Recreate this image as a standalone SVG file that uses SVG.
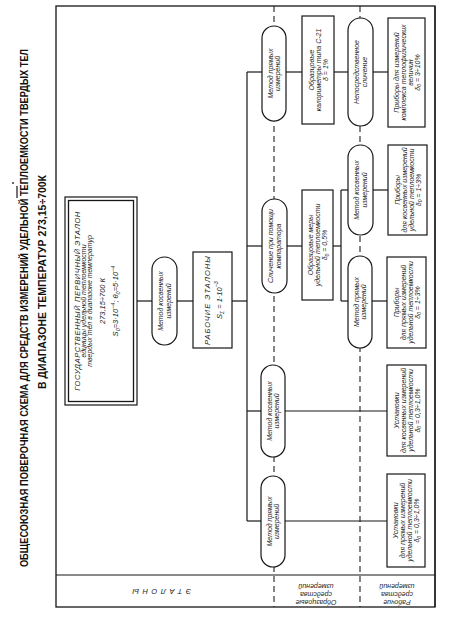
<svg xmlns="http://www.w3.org/2000/svg" width="461" height="626" viewBox="0 0 461 626">
<style>
.bg{fill:#fff}
.fr{fill:none;stroke:#161616;stroke-width:1.3}
.ln{fill:none;stroke:#161616;stroke-width:1.2}
.ds{fill:none;stroke:#222;stroke-width:1.1;stroke-dasharray:6 4}
.bx{fill:#fff;stroke:#161616;stroke-width:1.2}
.t{font-family:"Liberation Sans",Arial,sans-serif;font-style:italic;font-size:7px;fill:#1e1e1e;text-anchor:middle}
.cap{font-family:"Liberation Sans",Arial,sans-serif;font-style:italic;font-size:7.5px;fill:#1e1e1e;text-anchor:middle}
.ttl{font-family:"Liberation Sans",Arial,sans-serif;font-weight:bold;fill:#111;text-anchor:middle}
</style>
<rect class="bg" x="0" y="0" width="461" height="626"/>

<!-- title -->
<g id="title">
<text class="ttl" font-size="11" transform="translate(24,308) rotate(-90) scale(0.82,1)" x="0" y="4" textLength="632" lengthAdjust="spacingAndGlyphs">ОБЩЕСОЮЗНАЯ ПОВЕРОЧНАЯ СХЕМА ДЛЯ СРЕДСТВ ИЗМЕРЕНИЙ УДЕЛЬНОЙ ТЕПЛОЕМКОСТИ ТВЕРДЫХ ТЕЛ</text>
<text class="ttl" font-size="10.5" transform="translate(42,282) rotate(-90) scale(0.87,1)" x="0" y="4" textLength="246" lengthAdjust="spacingAndGlyphs">В ДИАПАЗОНЕ ТЕМПЕРАТУР 273,15÷700К</text>
<line class="ln" x1="17" y1="186" x2="17" y2="198" stroke-width="1.6"/>
<circle cx="13" cy="183" r="0.9" fill="#222"/>
</g>

<!-- frame and zones -->
<g id="frame">
<rect class="fr" x="56" y="6" width="379" height="601"/>
<line class="ln" x1="435" y1="6" x2="435" y2="607" stroke-width="2.2"/>
<line class="ln" x1="56" y1="575" x2="435" y2="575"/>
<line class="ds" x1="274" y1="6" x2="274" y2="607"/>
<line class="ds" x1="360" y1="6" x2="360" y2="607"/>
</g>

<!-- connectors -->
<g id="connectors">
<line class="ln" x1="137" y1="301" x2="152" y2="301"/>
<line class="ln" x1="177" y1="301" x2="193" y2="301"/>
<line class="ln" x1="232" y1="301" x2="247" y2="301"/>
<line class="ln" x1="247" y1="72" x2="247" y2="521"/>
<line class="ln" x1="247" y1="72" x2="262" y2="72"/>
<line class="ln" x1="247" y1="246" x2="262" y2="246"/>
<line class="ln" x1="247" y1="411" x2="261" y2="411"/>
<line class="ln" x1="247" y1="521" x2="261" y2="521"/>
<line class="ln" x1="286" y1="72" x2="302" y2="72"/>
<line class="ln" x1="334" y1="72" x2="348" y2="72"/>
<line class="ln" x1="373" y1="72" x2="388" y2="72"/>
<line class="ln" x1="287" y1="246" x2="302" y2="246"/>
<line class="ln" x1="333" y1="246" x2="341" y2="246"/>
<line class="ln" x1="341" y1="190" x2="341" y2="301"/>
<line class="ln" x1="341" y1="190" x2="348" y2="190"/>
<line class="ln" x1="341" y1="301" x2="348" y2="301"/>
<line class="ln" x1="373" y1="190" x2="388" y2="190"/>
<line class="ln" x1="372" y1="301" x2="387" y2="301"/>
<line class="ln" x1="285" y1="411" x2="387" y2="411"/>
<line class="ln" x1="285" y1="521" x2="387" y2="521"/>
</g>

<!-- primary standard -->
<g id="primary-standard">
<rect class="bx" x="65" y="197" width="72" height="208"/>
<rect class="fr" x="68.5" y="200.5" width="65" height="201" stroke-width="0.9"/>
<g transform="translate(101,301) rotate(-90)">
<text class="cap" x="0" y="-21.5" letter-spacing="0.6">ГОСУДАРСТВЕННЫЙ ПЕРВИЧНЫЙ ЭТАЛОН</text>
<text class="t" x="0" y="-15.5" font-size="6.5">единицы удельной теплоемкости</text>
<text class="t" x="0" y="-9.5" font-size="6.5">твердых тел в диапазоне температур</text>
<text class="cap" x="0" y="3.5">273,15÷700 К</text>
<text class="cap" x="0" y="17" font-size="8">S<tspan font-size="5.5" dy="2">0</tspan><tspan dy="-2">=3·10</tspan><tspan font-size="5.5" dy="-3.5">−4</tspan><tspan dy="3.5">;  θ</tspan><tspan font-size="5.5" dy="2">0</tspan><tspan dy="-2">=5·10</tspan><tspan font-size="5.5" dy="-3.5">−4</tspan></text>
</g>
</g>

<g id="method-indirect-1">
<rect class="bx" x="152" y="257" width="25" height="88" rx="12.5"/>
<text class="t" transform="translate(164.5,301) rotate(-90)"><tspan x="0" y="-1.2">Метод косвенных</tspan><tspan x="0" y="6.3">измерений</tspan></text>
</g>

<g id="working-standards">
<rect class="bx" x="193" y="252" width="39" height="96"/>
<g transform="translate(212.5,300) rotate(-90)">
<text class="cap" x="0" y="-3" letter-spacing="1">РАБОЧИЕ ЭТАЛОНЫ</text>
<text class="cap" x="0" y="9">S<tspan font-size="5" dy="2">Σ</tspan><tspan dy="-2"> = 1·10</tspan><tspan font-size="5.5" dy="-3.5">−3</tspan></text>
</g>
</g>

<g id="method-direct-a">
<rect class="bx" x="262" y="26" width="24" height="95" rx="12"/>
<text class="t" transform="translate(274,73.5) rotate(-90)"><tspan x="0" y="-1.2">Метод прямых</tspan><tspan x="0" y="6.3">измерений</tspan></text>
</g>

<g id="comparison-b">
<rect class="bx" x="262" y="199" width="25" height="94" rx="12.5"/>
<text class="t" transform="translate(274.5,246) rotate(-90)"><tspan x="0" y="-1.2">Сличение при помощи</tspan><tspan x="0" y="6.3">компаратора</tspan></text>
</g>

<g id="method-indirect-c">
<rect class="bx" x="261" y="365" width="24" height="92" rx="12"/>
<text class="t" transform="translate(273,411) rotate(-90)"><tspan x="0" y="-1.2">Метод косвенных</tspan><tspan x="0" y="6.3">измерений</tspan></text>
</g>

<g id="method-direct-d">
<rect class="bx" x="261" y="476" width="24" height="91" rx="12"/>
<text class="t" transform="translate(273,521.5) rotate(-90)"><tspan x="0" y="-1.2">Метод прямых</tspan><tspan x="0" y="6.3">измерений</tspan></text>
</g>

<g id="calorimeters-e">
<rect class="bx" x="302" y="16" width="32" height="108"/>
<text class="t" transform="translate(318,70) rotate(-90)"><tspan x="0" y="-4.5">Образцовые</tspan><tspan x="0" y="2.5">калориметры типа С-21</tspan><tspan x="0" y="9.5">δ = 1%</tspan></text>
</g>

<g id="measures-f">
<rect class="bx" x="302" y="190" width="31" height="110"/>
<text class="t" transform="translate(317.5,245) rotate(-90)"><tspan x="0" y="-4.5">Образцовые меры</tspan><tspan x="0" y="2.5">удельной теплоемкости</tspan><tspan x="0" y="9.5">δ<tspan font-size="5" dy="1.5">0</tspan><tspan dy="-1.5"> = 0,5%</tspan></tspan></text>
</g>

<g id="direct-comparison-g">
<rect class="bx" x="348" y="18" width="25" height="108" rx="12.5"/>
<text class="t" transform="translate(360.5,72) rotate(-90)"><tspan x="0" y="-1.2">Непосредственное</tspan><tspan x="0" y="6.3">сличение</tspan></text>
</g>

<g id="method-indirect-h">
<rect class="bx" x="348" y="145" width="25" height="90" rx="12.5"/>
<text class="t" transform="translate(360.5,190) rotate(-90)"><tspan x="0" y="-1.2">Метод косвенных</tspan><tspan x="0" y="6.3">измерений</tspan></text>
</g>

<g id="method-direct-i">
<rect class="bx" x="348" y="256" width="24" height="92" rx="12"/>
<text class="t" transform="translate(360,302) rotate(-90)"><tspan x="0" y="-1.2">Метод прямых</tspan><tspan x="0" y="6.3">измерений</tspan></text>
</g>

<g id="instruments-j">
<rect class="bx" x="388" y="18" width="37" height="109"/>
<text class="t" transform="translate(406.5,72.5) rotate(-90)"><tspan x="0" y="-8">Приборы для измерений</tspan><tspan x="0" y="-1">комплекса теплофизических</tspan><tspan x="0" y="6">величин</tspan><tspan x="0" y="13">δ<tspan font-size="5" dy="1.5">0</tspan><tspan dy="-1.5"> = 3÷10%</tspan></tspan></text>
</g>

<g id="instruments-k">
<rect class="bx" x="388" y="145" width="39" height="90"/>
<text class="t" transform="translate(407.5,190) rotate(-90)"><tspan x="0" y="-8">Приборы</tspan><tspan x="0" y="-1">для косвенных измерений</tspan><tspan x="0" y="6">удельной теплоемкости</tspan><tspan x="0" y="13">δ<tspan font-size="5" dy="1.5">0</tspan><tspan dy="-1.5"> = 1÷3%</tspan></tspan></text>
</g>

<g id="instruments-l">
<rect class="bx" x="387" y="257" width="39" height="91"/>
<text class="t" transform="translate(406.5,302.5) rotate(-90)"><tspan x="0" y="-8">Приборы</tspan><tspan x="0" y="-1">для прямых измерений</tspan><tspan x="0" y="6">удельной теплоемкости</tspan><tspan x="0" y="13">δ<tspan font-size="5" dy="1.5">0</tspan><tspan dy="-1.5"> = 1÷3%</tspan></tspan></text>
</g>

<g id="installations-m">
<rect class="bx" x="387" y="365" width="39" height="91"/>
<text class="t" transform="translate(406.5,410.5) rotate(-90)"><tspan x="0" y="-8">Установки</tspan><tspan x="0" y="-1">для косвенных измерений</tspan><tspan x="0" y="6">удельной теплоемкости</tspan><tspan x="0" y="13">δ<tspan font-size="5" dy="1.5">0</tspan><tspan dy="-1.5"> = 0,3÷1,0%</tspan></tspan></text>
</g>

<g id="installations-n">
<rect class="bx" x="387" y="474" width="38" height="93"/>
<text class="t" transform="translate(406,520.5) rotate(-90)"><tspan x="0" y="-8">Установки</tspan><tspan x="0" y="-1">для прямых измерений</tspan><tspan x="0" y="6">удельной теплоемкости</tspan><tspan x="0" y="13">δ<tspan font-size="5" dy="1.5">0</tspan><tspan dy="-1.5"> = 0,3÷1,0%</tspan></tspan></text>
</g>

<!-- zone labels -->
<g id="label-standards">
<text class="cap" transform="translate(160,591) rotate(180)" x="0" y="2.5" letter-spacing="3.5">ЭТАЛОНЫ</text>
</g>
<g id="label-exemplary">
<text class="t" transform="translate(316,594) rotate(180)"><tspan x="0" y="-5.5">Образцовые</tspan><tspan x="0" y="2.5">средства</tspan><tspan x="0" y="10.5">измерений</tspan></text>
</g>
<g id="label-working">
<text class="t" transform="translate(397,594) rotate(180)"><tspan x="0" y="-5.5">Рабочие</tspan><tspan x="0" y="2.5">средства</tspan><tspan x="0" y="10.5">измерений</tspan></text>
</g>
</svg>
